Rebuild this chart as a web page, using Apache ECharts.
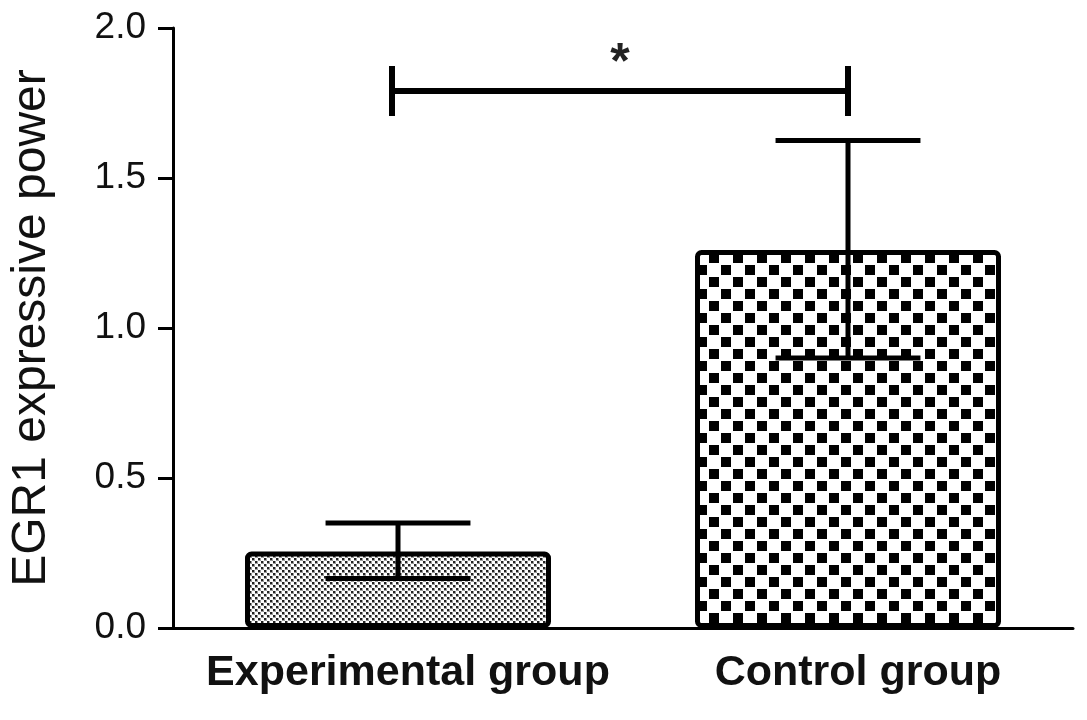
<!DOCTYPE html>
<html>
<head>
<meta charset="utf-8">
<script src="https://cdn.jsdelivr.net/npm/echarts@6/dist/echarts.min.js"></script>
<style>
html,body{margin:0;padding:0;background:#fff;}
#chart{width:1087px;height:720px;}
</style>
</head>
<body>
<div id="chart"></div>
<script>
// ---- data ----
var categories = ['Experimental group', 'Control group'];
var means = [0.255, 1.26];
var errUpper = [0.35, 1.625];
var errLower = [0.165, 0.9];
var yTicks = [0, 0.5, 1.0, 1.5, 2.0];
var sigPair = [0, 1];
var sigLevel = 1.79;
var sigLabel = '*';
var yTitle = 'EGR1 expressive power';

// ---- patterns ----
function dotPattern() {
  var c = document.createElement('canvas');
  c.width = 6; c.height = 6;
  var g = c.getContext('2d');
  g.fillStyle = '#fff'; g.fillRect(0, 0, 6, 6);
  g.fillStyle = '#9a9a9a';
  g.fillRect(0, 0, 3, 3); g.fillRect(3, 3, 3, 3);
  g.fillStyle = '#222';
  g.fillRect(0, 0, 2, 2); g.fillRect(3, 3, 2, 2);
  return c;
}
function checkPattern() {
  var c = document.createElement('canvas');
  c.width = 24; c.height = 24;
  var g = c.getContext('2d');
  g.fillStyle = '#fff'; g.fillRect(0, 0, 24, 24);
  g.fillStyle = '#000';
  g.fillRect(1, 1, 10, 10); g.fillRect(13, 13, 10, 10);
  return c;
}
var patterns = [dotPattern(), checkPattern()];

var chart = echarts.init(document.getElementById('chart'), null, {renderer: 'canvas'});

var barData = means.map(function (v, i) {
  return {
    value: v,
    itemStyle: {
      color: {image: patterns[i], repeat: 'repeat'},
      borderColor: '#000',
      borderWidth: 5,
      borderRadius: 4
    }
  };
});

var errData = means.map(function (v, i) { return [i, errUpper[i], errLower[i]]; });

var option = {
  animation: false,
  backgroundColor: '#fff',
  textStyle: {fontFamily: 'Liberation Sans, Arial, sans-serif'},
  grid: {left: 164, right: 14, top: 28, bottom: 92, containLabel: false},
  xAxis: {
    type: 'category',
    data: categories,
    boundaryGap: true,
    axisLine: {lineStyle: {color: '#000', width: 3}},
    axisTick: {alignWithLabel: true, length: 13, lineStyle: {color: '#000', width: 3}},
    axisLabel: {
      interval: 0,
      color: '#111', fontSize: 43, fontWeight: 'bold', margin: 24,
      padding: [0, 0, 0, 20],
      fontFamily: 'Liberation Sans, Arial, sans-serif'
    }
  },
  yAxis: {
    type: 'value',
    min: 0, max: 2, interval: 0.5,
    name: yTitle,
    nameLocation: 'middle',
    nameGap: 117,
    nameTextStyle: {color: '#111', fontSize: 48, fontFamily: 'Liberation Sans, Arial, sans-serif'},
    axisLine: {show: true, lineStyle: {color: '#000', width: 3}},
    axisTick: {show: true, length: 15, lineStyle: {color: '#000', width: 3}},
    axisLabel: {
      color: '#111', fontSize: 37, margin: 27,
      fontFamily: 'Liberation Sans, Arial, sans-serif',
      formatter: function (v) { return yTicks.indexOf(v) >= 0 ? v.toFixed(1) : ''; }
    },
    splitLine: {show: false}
  },
  series: [
    {
      type: 'bar',
      data: barData,
      barWidth: '68%',
      z: 2
    },
    {
      type: 'custom',
      z: 5,
      data: errData,
      renderItem: function (params, api) {
        var x = api.value(0);
        var top = api.coord([x, api.value(1)]);
        var bot = api.coord([x, api.value(2)]);
        var half = api.size([1, 0])[0] * 0.161;
        var st = {stroke: '#000', lineWidth: 5};
        return {
          type: 'group',
          children: [
            {type: 'line', shape: {x1: top[0], y1: top[1], x2: bot[0], y2: bot[1]}, style: st},
            {type: 'line', shape: {x1: top[0] - half, y1: top[1], x2: top[0] + half, y2: top[1]}, style: st},
            {type: 'line', shape: {x1: bot[0] - half, y1: bot[1], x2: bot[0] + half, y2: bot[1]}, style: st}
          ]
        };
      }
    },
    {
      type: 'custom',
      z: 5,
      data: [[sigPair[0], sigPair[1], sigLevel]],
      renderItem: function (params, api) {
        var a = api.coord([api.value(0), api.value(2)]);
        var b = api.coord([api.value(1), api.value(2)]);
        var st = {stroke: '#000', lineWidth: 6};
        var h = 25;
        return {
          type: 'group',
          children: [
            {type: 'line', shape: {x1: a[0] - 6, y1: a[1], x2: b[0], y2: b[1]}, style: st},
            {type: 'line', shape: {x1: a[0] - 6, y1: a[1] - h, x2: a[0] - 6, y2: a[1] + h}, style: st},
            {type: 'line', shape: {x1: b[0], y1: b[1] - h, x2: b[0], y2: b[1] + h}, style: st},
            {type: 'text', style: {
              text: sigLabel, x: (a[0] + b[0]) / 2 - 3, y: a[1] - 2,
              fill: '#222', font: 'bold 50px Liberation Sans, Arial, sans-serif',
              align: 'center', verticalAlign: 'bottom'
            }}
          ]
        };
      }
    }
  ]
};
chart.setOption(option);
</script>
</body>
</html>
